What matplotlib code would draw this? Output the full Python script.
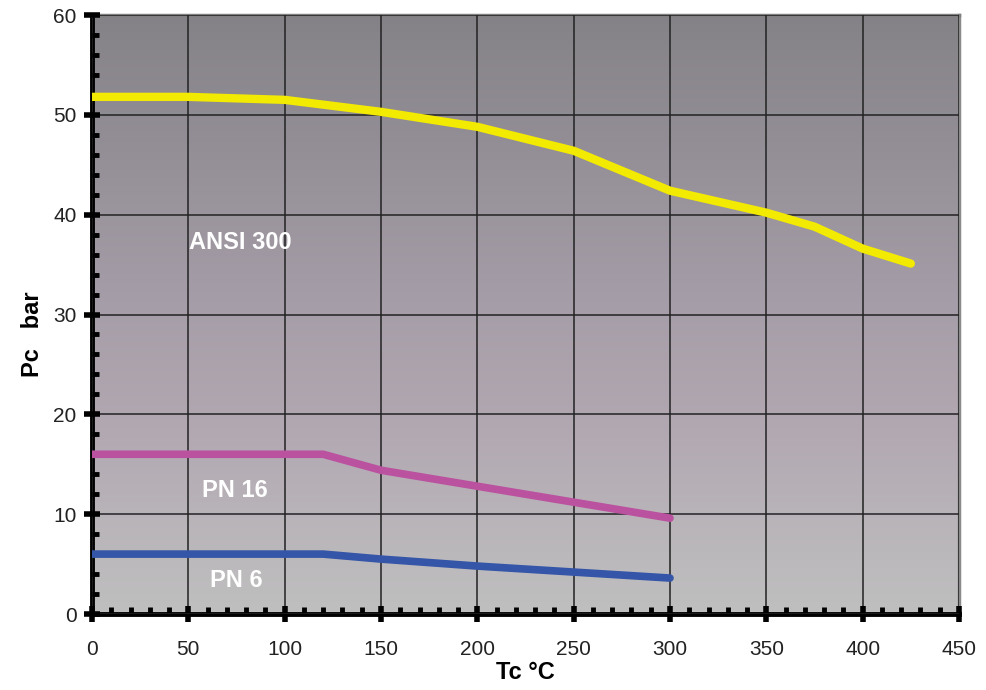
import numpy as np
import matplotlib
matplotlib.use("Agg")
import matplotlib.pyplot as plt
from matplotlib.colors import LinearSegmentedColormap
from matplotlib.ticker import MultipleLocator

plt.rcParams['font.family'] = ['Liberation Sans', 'DejaVu Sans']

# Data
ansi_t = [0, 50, 100, 150, 200, 250, 300, 350, 375, 400, 425]
ansi_p = [51.8, 51.8, 51.5, 50.3, 48.8, 46.4, 42.4, 40.2, 38.8, 36.6, 35.1]
pn16_t = [0, 120, 150, 200, 250, 300]
pn16_p = [16.0, 16.0, 14.4, 12.8, 11.2, 9.6]
pn6_t = [0, 120, 150, 200, 250, 300]
pn6_p = [6.0, 6.0, 5.5, 4.8, 4.2, 3.6]

x_ticks = [0, 50, 100, 150, 200, 250, 300, 350, 400, 450]
y_ticks = [0, 10, 20, 30, 40, 50, 60]

fig = plt.figure(figsize=(9.87, 6.90), dpi=100)
ax = fig.add_axes([92/987, 1-614/690, (959-92)/987, (614-15)/690])

# gradient background
cmap = LinearSegmentedColormap.from_list("bg", [
    (0.0, (0.75, 0.75, 0.75)),
    (0.18, (0.72, 0.70, 0.72)),
    (0.30, (0.70, 0.66, 0.70)),
    (0.55, (0.64, 0.61, 0.65)),
    (1.0, (0.52, 0.51, 0.53)),
])
grad = np.linspace(0, 1, 256).reshape(-1, 1)
ax.imshow(grad, extent=[0, 450, 0, 60], origin='lower', aspect='auto',
          cmap=cmap, zorder=0)

ax.set_xlim(0, 450)
ax.set_ylim(0, 60)
ax.set_xticks(x_ticks)
ax.set_yticks(y_ticks)
ax.xaxis.set_minor_locator(MultipleLocator(10))
ax.yaxis.set_minor_locator(MultipleLocator(2))
ax.grid(True, which='major', color='#222222', linewidth=1.1, zorder=1)
ax.set_axisbelow(False)

ax.plot(ansi_t, ansi_p, color='#f2ea00', linewidth=6, solid_capstyle='round', zorder=3)
ax.plot(pn16_t, pn16_p, color='#bb52a0', linewidth=5.5, solid_capstyle='round', zorder=3)
ax.plot(pn6_t, pn6_p, color='#3455a8', linewidth=5.5, solid_capstyle='round', zorder=3)

ax.text(77, 37.2, "ANSI 300", color='white', fontsize=17, fontweight='bold', ha='center', va='center', zorder=4)
ax.text(74, 12.4, "PN 16", color='white', fontsize=17, fontweight='bold', ha='center', va='center', zorder=4)
ax.text(75, 3.4, "PN 6", color='white', fontsize=17, fontweight='bold', ha='center', va='center', zorder=4)

for s in ['left', 'bottom']:
    ax.spines[s].set_color('black')
    ax.spines[s].set_linewidth(3.5)
ax.spines['top'].set_color('#808080')
ax.spines['top'].set_linewidth(2.5)
ax.spines['right'].set_color('#8a8a8a')
ax.spines['right'].set_linewidth(2.5)

ax.tick_params(which='major', direction='inout', length=12, width=4, color='black',
               labelsize=15, labelcolor='#222222')
ax.tick_params(axis='x', which='major', pad=13)
ax.tick_params(axis='y', which='major', pad=5)
ax.tick_params(which='minor', direction='in', length=5, width=3.5, color='black')

ax.set_xlabel("Tc °C", fontsize=17, fontweight='bold', labelpad=1)
ax.set_ylabel("Pc   bar", fontsize=17, fontweight='bold')
ax.yaxis.set_label_coords(-0.055, 0.467)

fig.savefig("out.png", dpi=100)
